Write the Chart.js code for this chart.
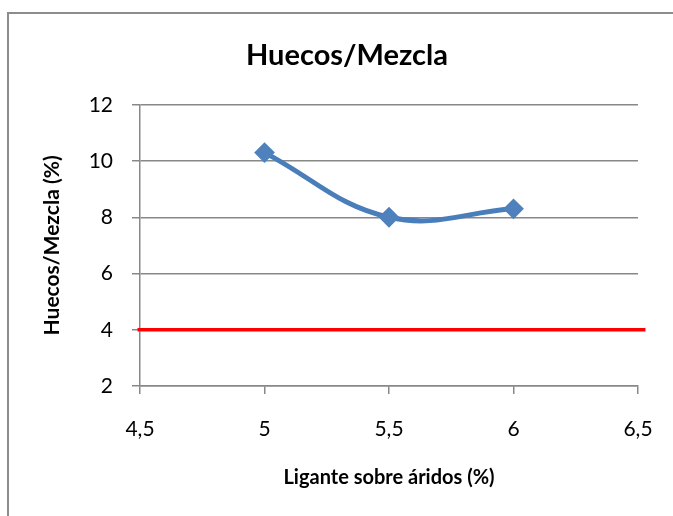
<!DOCTYPE html>
<html>
<head>
<meta charset="utf-8">
<script src="https://cdn.jsdelivr.net/npm/chart.js@4"></script>
<style>
  html, body { margin: 0; padding: 0; background: #fff; }
  #wrap { position: relative; width: 673px; height: 516px; overflow: hidden; }
  #frame { position: absolute; left: 7px; top: 12px; width: 700px; height: 560px;
           border-left: 2px solid #8c8c8c; border-top: 2px solid #8c8c8c; }
  canvas { position: absolute; left: 0; top: 0; }
</style>
</head>
<body>
<div id="wrap">
  <div id="frame"></div>
  <canvas id="c" width="673" height="516"></canvas>
</div>
<script>
// Ligante sobre áridos (%) y huecos en mezcla (%)
const ligante = [5, 5.5, 6];
const huecos = [10.3, 8.0, 8.3];

// Línea de referencia en 4 %
const limiteX = [4.49, 6.53];
const limiteY = [4, 4];

const xMin = 4.5, xMax = 6.5, xStep = 0.5;
const yMin = 2, yMax = 12, yStep = 2;

const FONT = 'Lato, "Open Sans", sans-serif';
const gridColor = '#888888';

const coma = v => String(v).replace('.', ',');

new Chart(document.getElementById('c'), {
  type: 'scatter',
  data: {
    datasets: [
      {
        label: 'Huecos/Mezcla',
        data: ligante.map((x, i) => ({ x, y: huecos[i] })),
        showLine: true,
        tension: 0.4,
        borderColor: '#4a7ebb',
        borderWidth: 5,
        pointStyle: 'rectRot',
        pointRadius: 9,
        pointHoverRadius: 9,
        pointBackgroundColor: '#4f81bd',
        pointBorderColor: '#4f81bd',
        pointBorderWidth: 2,
        order: 1
      },
      {
        label: 'Límite',
        data: limiteX.map((x, i) => ({ x, y: limiteY[i] })),
        showLine: true,
        borderColor: '#ff0000',
        borderWidth: 3.5,
        pointRadius: 0,
        clip: false,
        order: 2
      }
    ]
  },
  options: {
    responsive: false,
    animation: false,
    events: [],
    layout: { padding: { left: 56, right: 35, top: 0, bottom: 0 } },
    plugins: {
      legend: { display: false },
      tooltip: { enabled: false },
      title: {
        display: true,
        text: 'Huecos/Mezcla',
        color: '#000',
        font: { family: FONT, size: 29, weight: 'bold', lineHeight: 1.2 },
        padding: { top: 38, bottom: 32 }
      }
    },
    scales: {
      x: {
        type: 'linear',
        min: xMin, max: xMax,
        afterFit: s => { s.height = 130; s.paddingLeft = 0; s.paddingRight = 0; },
        ticks: {
          stepSize: xStep,
          color: '#000',
          font: { family: FONT, size: 21 },
          padding: 23,
          maxRotation: 0,
          callback: v => coma(v)
        },
        grid: { drawOnChartArea: false, drawTicks: true, tickLength: 8, color: gridColor, lineWidth: 1.5 },
        border: { color: gridColor, width: 1.5 },
        title: {
          display: true,
          text: 'Ligante sobre áridos (%)',
          color: '#000',
          font: { family: FONT, size: 20, weight: 'bold', lineHeight: 1.2 },
          padding: { top: 0, bottom: 26 }
        }
      },
      y: {
        type: 'linear',
        min: yMin, max: yMax,
        afterFit: s => { s.width = 84; },
        ticks: {
          stepSize: yStep,
          color: '#000',
          font: { family: FONT, size: 21 },
          padding: 19,
          callback: v => coma(v)
        },
        grid: { drawOnChartArea: true, drawTicks: true, tickLength: 8, color: gridColor, lineWidth: 1.5 },
        border: { color: gridColor, width: 1.5 },
        title: {
          display: true,
          text: 'Huecos/Mezcla (%)',
          color: '#000',
          font: { family: FONT, size: 21, weight: 'bold', lineHeight: 1.2 },
          padding: { top: -16.6, bottom: 0 }
        }
      }
    }
  }
});
</script>
</body>
</html>
